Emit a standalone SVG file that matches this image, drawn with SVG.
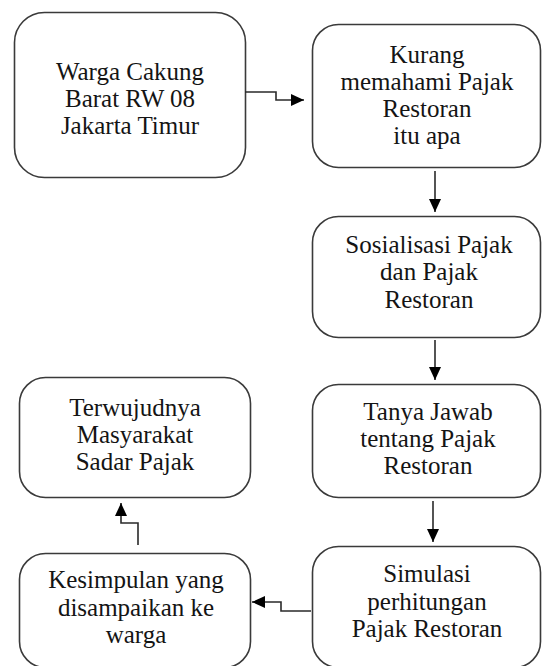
<svg xmlns="http://www.w3.org/2000/svg" width="542" height="666" viewBox="0 0 542 666">
<style>
.box{fill:#fff;stroke:#3a3a3a;stroke-width:1.6}
.t{font-family:"Liberation Serif","Times New Roman",serif;font-size:25px;fill:#141414;text-anchor:middle}
.c{fill:none;stroke:#2a2a2a;stroke-width:1.6}
</style>
<defs>
<marker id="ah" markerUnits="userSpaceOnUse" markerWidth="14" markerHeight="12" refX="13" refY="6" orient="auto">
<path d="M0,0 L13,6 L0,12 z" fill="#000"/>
</marker>
</defs>
<rect width="542" height="666" fill="#fff"/>
<g id="n1">
<rect class="box" x="14.5" y="12.5" width="231" height="165" rx="30"/>
<text class="t" x="130" y="80">Warga Cakung</text>
<text class="t" x="130" y="107">Barat RW 08</text>
<text class="t" x="130" y="134">Jakarta Timur</text>
</g>
<g id="n2">
<rect class="box" x="312.5" y="24.5" width="228" height="143" rx="26"/>
<text class="t" x="427" y="63">Kurang</text>
<text class="t" x="427" y="90">memahami Pajak</text>
<text class="t" x="427" y="117">Restoran</text>
<text class="t" x="427" y="144">itu apa</text>
</g>
<g id="n3">
<rect class="box" x="312.5" y="216.5" width="228" height="121" rx="26"/>
<text class="t" x="429" y="253">Sosialisasi Pajak</text>
<text class="t" x="429" y="280">dan Pajak</text>
<text class="t" x="429" y="308">Restoran</text>
</g>
<g id="n4">
<rect class="box" x="312.5" y="384.5" width="228" height="113" rx="26"/>
<text class="t" x="428" y="420">Tanya Jawab</text>
<text class="t" x="428" y="447">tentang Pajak</text>
<text class="t" x="428" y="474">Restoran</text>
</g>
<g id="n5">
<rect class="box" x="312.5" y="546.5" width="228" height="121" rx="26"/>
<text class="t" x="427" y="582">Simulasi</text>
<text class="t" x="427" y="610">perhitungan</text>
<text class="t" x="427" y="637">Pajak Restoran</text>
</g>
<g id="n6">
<rect class="box" x="19.5" y="377.5" width="231" height="120" rx="26"/>
<text class="t" x="135" y="416">Terwujudnya</text>
<text class="t" x="135" y="443">Masyarakat</text>
<text class="t" x="135" y="470">Sadar Pajak</text>
</g>
<g id="n7">
<rect class="box" x="19.5" y="553.5" width="231" height="114" rx="26"/>
<text class="t" x="136" y="588">Kesimpulan yang</text>
<text class="t" x="136" y="616">disampaikan ke</text>
<text class="t" x="136" y="643">warga</text>
</g>
<g id="connectors">
<path class="c" d="M245,92 H276 V100 H304" marker-end="url(#ah)"/>
<path class="c" d="M435,171 V212" marker-end="url(#ah)"/>
<path class="c" d="M435,340 V380" marker-end="url(#ah)"/>
<path class="c" d="M433,501 V542" marker-end="url(#ah)"/>
<path class="c" d="M311,611 H281 V602 H252" marker-end="url(#ah)"/>
<path class="c" d="M138,545 V523 H121 V503" marker-end="url(#ah)"/>
</g>
</svg>
